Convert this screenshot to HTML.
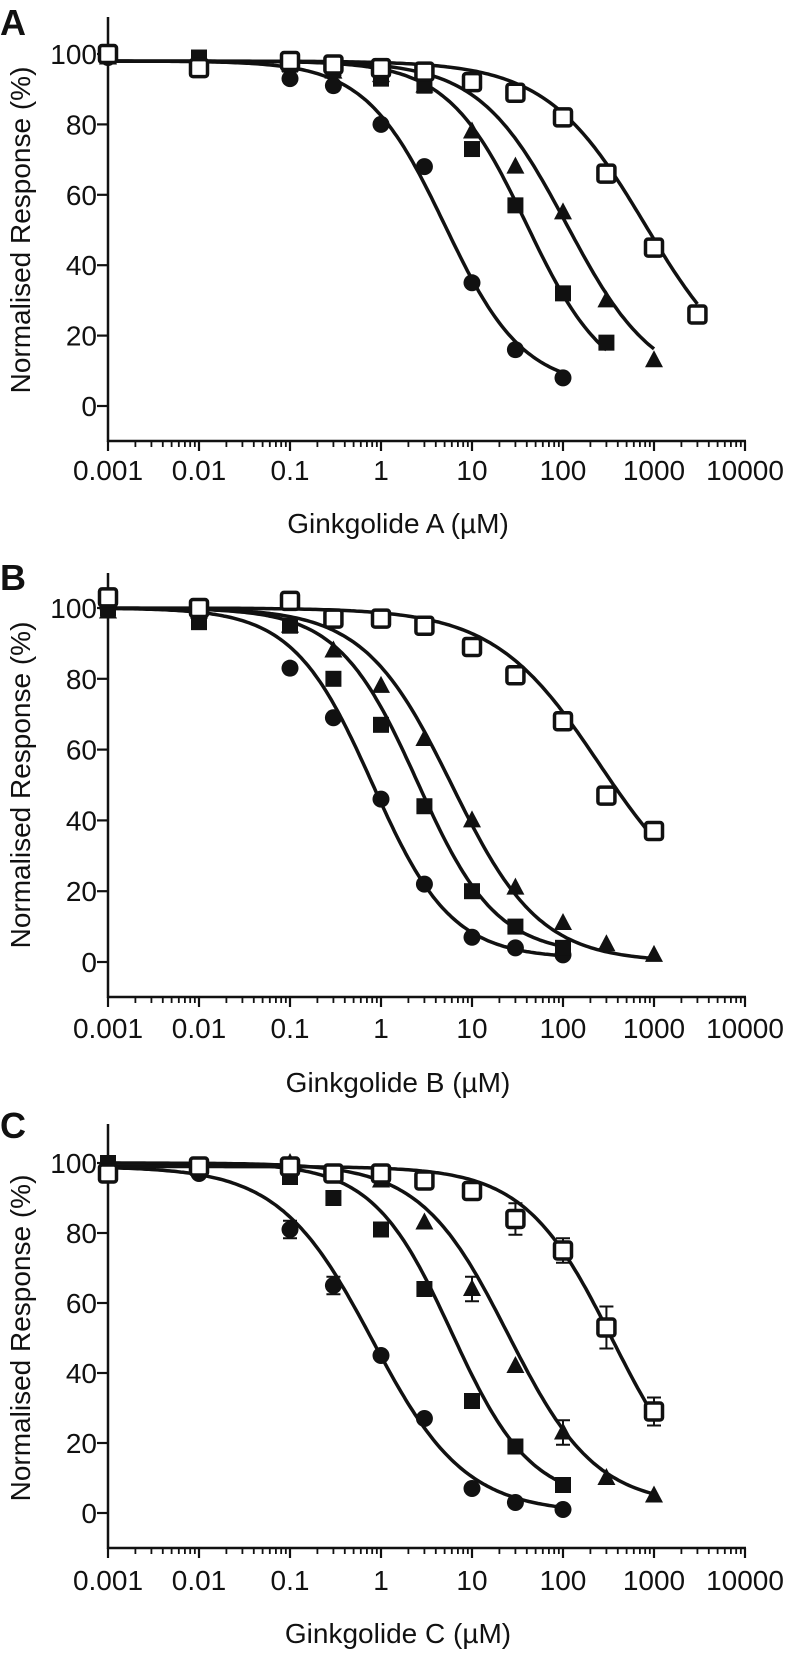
<!DOCTYPE html>
<html><head><meta charset="utf-8"><style>
body{margin:0;background:#fff}
svg{display:block}
text{font-family:"Liberation Sans",Arial,sans-serif;fill:#111}
</style></head><body>
<svg id="chart" width="787" height="1653" viewBox="0 0 787 1653" xmlns="http://www.w3.org/2000/svg"></svg>
<script>
// ---- data ----
const concentrations = [0.001,0.01,0.1,0.3,1,3,10,30,100,300,1000,3000];
const panelLetters = ["A","B","C"];
const panelTitles = ["Ginkgolide A (µM)","Ginkgolide B (µM)","Ginkgolide C (µM)"];
const yTickValues = [0,20,40,60,80,100];
const xTickValues = [0.001,0.01,0.1,1,10,100,1000,10000];
const xTickLabels = ["0.001","0.01","0.1","1","10","100","1000","10000"];
const seriesShapes = ["circle","square","triangle","open-square"];
// Panel A responses (null = no point)
const aCircle   = [99,98,93,91,80,68,35,16,8,null,null,null];
const aSquare   = [100,99,97,96,93,91,73,57,32,18,null,null];
const aTriangle = [99,98,97,95,94,91,78,68,55,30,13,null];
const aOpen     = [100,96,98,97,96,95,92,89,82,66,45,26];
// Panel B
const bCircle   = [100,100,83,69,46,22,7,4,2,null,null,null];
const bSquare   = [100,96,95,80,67,44,20,10,4,null,null,null];
const bTriangle = [99,99,95,88,78,63,40,21,11,5,2,null];
const bOpen     = [103,100,102,97,97,95,89,81,68,47,37,null];
// Panel C
const cCircle   = [98,97,81,65,45,27,7,3,1,null,null,null];
const cSquare   = [100,99,96,90,81,64,32,19,8,null,null,null];
const cTriangle = [99,99,100,97,95,83,64,42,23,10,5,null];
const cOpen     = [97,99,99,97,97,95,92,84,75,53,29,null];
// Panel C error bars (SEM) per series
const cCircleErr   = [0,0,2.5,2.5,0,0,0,0,0,0,0,0];
const cSquareErr   = [0,0,0,0,1.5,2,2,0,0,0,0,0];
const cTriangleErr = [0,0,0,0,0,0,3.5,0,3.5,0,0,0];
const cOpenErr     = [0,0,0,0,0,0,0,4.5,3.5,6,4,0];
// Fit parameters (IC50, Hill slope, bottom, top) per series
const aIC50 = [5,40,110,800];   const aHill = [1,1,0.9,0.8];   const aBottom = [5,5,5,5];  const aTop=[98,98,98,98];
const bIC50 = [0.8,2.5,6,250];  const bHill = [1,1,0.9,0.75];  const bBottom = [1,2,0,12]; const bTop=[100,100,100,100];
const cIC50 = [0.8,6,25,350];   const cHill = [0.85,1,0.9,0.9]; const cBottom = [0,3,2,0]; const cTop=[99,100,100,99];

const panelData = [[aCircle,aSquare,aTriangle,aOpen],[bCircle,bSquare,bTriangle,bOpen],[cCircle,cSquare,cTriangle,cOpen]];
const panelErr = [null,null,[cCircleErr,cSquareErr,cTriangleErr,cOpenErr]];
const panelFits = [[aIC50,aHill,aBottom,aTop],[bIC50,bHill,bBottom,bTop],[cIC50,cHill,cBottom,cTop]];

// ---- layout ----
const NS="http://www.w3.org/2000/svg";
const svg=document.getElementById('chart');
const layout=[
 {y100:54,y0:406,top:17,bottom:441,lab:470,title:523,letter:35},
 {y100:608,y0:962,top:573,bottom:997,lab:1028,title:1082,letter:590},
 {y100:1163,y0:1513,top:1124,bottom:1548,lab:1580,title:1633,letter:1138}
];
const X0=108, DEC=91;
function xs(v){return X0+(Math.log10(v)+3)*DEC;}
function mk(tag,attrs,parent){const e=document.createElementNS(NS,tag);for(const k in attrs)e.setAttribute(k,attrs[k]);(parent||svg).appendChild(e);return e;}
function hill(x,ic,h,b,t){return b+(t-b)/(1+Math.pow(x/ic,h));}

layout.forEach((L,p)=>{
  const ys=v=>L.y0-(v/100)*(L.y0-L.y100);
  const g=mk('g',{});
  
  
  const letter=mk('text',{x:0,y:L.letter,'font-size':36,'font-weight':'bold'},g);
  letter.textContent=panelLetters[p];
  
  
  const ya=mk('line',{x1:X0,y1:L.top,x2:X0,y2:L.bottom+1,stroke:'#111','stroke-width':2.5},g);
  
  
  const xa=mk('line',{x1:X0-1,y1:L.bottom,x2:xs(10000)+1,y2:L.bottom,stroke:'#111','stroke-width':2.5},g);
  
  
  yTickValues.forEach(v=>{
    mk('line',{x1:X0-11,y1:ys(v),x2:X0,y2:ys(v),stroke:'#111','stroke-width':2.2},g);
    const t=mk('text',{x:X0-11,y:ys(v)+10,'font-size':28,'text-anchor':'end'},g);
    t.textContent=v;
    
    
  });
  xTickValues.forEach((v,i)=>{
    mk('line',{x1:xs(v),y1:L.bottom,x2:xs(v),y2:L.bottom+10,stroke:'#111','stroke-width':2.2},g);
    if(i<xTickValues.length-1){for(let m=2;m<10;m++){const xm=xs(v*m);mk('line',{x1:xm,y1:L.bottom,x2:xm,y2:L.bottom+6,stroke:'#111','stroke-width':1.8},g);}}
    const t=mk('text',{x:xs(v),y:L.lab+10,'font-size':28,'text-anchor':'middle'},g);
    t.textContent=xTickLabels[i];
    
    
  });
  const xt=mk('text',{x:xs(1)+17,y:L.title+10,'font-size':28,'text-anchor':'middle'},g);
  xt.textContent=panelTitles[p];
  
  
  const yc=(L.y0+L.y100)/2;
  const yt=mk('text',{x:0,y:0,'font-size':28,'text-anchor':'middle',transform:`translate(30,${yc}) rotate(-90)`},g);
  yt.textContent='Normalised Response (%)';
  
  
  panelData[p].forEach((vals,s)=>{
    const [IC,H,B,T]=panelFits[p];
    let last=0;vals.forEach((v,i)=>{if(v!==null)last=i;});
    const xmax=concentrations[last];
    let d='';
    for(let k=0;k<=200;k++){const lx=-3+(Math.log10(xmax)+3)*k/200;const x=Math.pow(10,lx);
      d+=(k?'L':'M')+xs(x).toFixed(1)+','+ys(hill(x,IC[s],H[s],B[s],T[s])).toFixed(1);}
    const c=mk('path',{d:d,fill:'none',stroke:'#111','stroke-width':3.5},g);
    
    
  });
  panelData[p].forEach((vals,s)=>{
    vals.forEach((v,i)=>{
      if(v===null)return;
      const cx=xs(concentrations[i]),cy=ys(v);
      const errs=panelErr[p]?panelErr[p][s]:null;
      if(errs&&errs[i]>0){
        const e=errs[i];
        const eb=mk('path',{d:`M${cx},${ys(v-e)}V${ys(v+e)}M${cx-7},${ys(v-e)}H${cx+7}M${cx-7},${ys(v+e)}H${cx+7}`,stroke:'#111','stroke-width':2,fill:'none'},g);
        
        
      }
      let m;
      if(seriesShapes[s]==='circle') m=mk('circle',{cx:cx,cy:cy,r:8.5,fill:'#111'},g);
      else if(seriesShapes[s]==='square') m=mk('rect',{x:cx-8,y:cy-8,width:16,height:16,fill:'#111'},g);
      else if(seriesShapes[s]==='triangle') m=mk('path',{d:`M${cx},${cy-10}L${cx+9},${cy+7}L${cx-9},${cy+7}Z`,fill:'#111'},g);
      else m=mk('rect',{x:cx-8.5,y:cy-8.5,width:17,height:17,rx:2.5,fill:'#fff',stroke:'#111','stroke-width':3.5},g);
      
      
    });
  });
});
</script>
</body></html>
